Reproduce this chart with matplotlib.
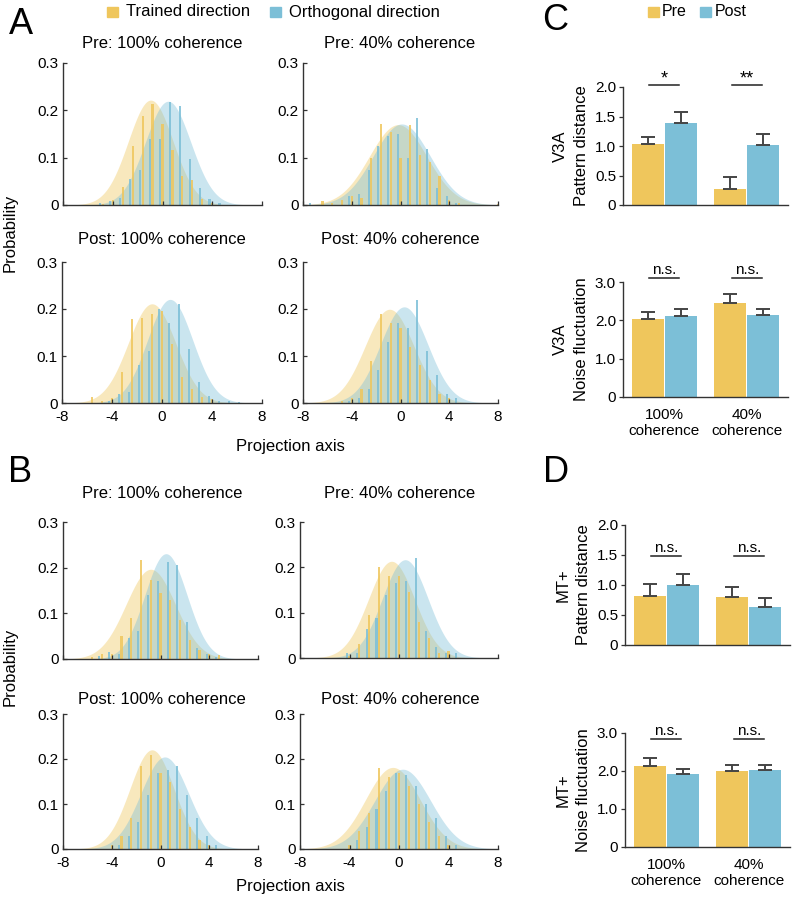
import numpy as np
import matplotlib
matplotlib.use("Agg")
import matplotlib.pyplot as plt
from matplotlib.patches import Rectangle

plt.rcParams['font.family'] = ['Liberation Sans', 'DejaVu Sans']
plt.rcParams['axes.unicode_minus'] = False

YELLOW = '#EFC65C'
BLUE = '#7CBFD7'
AXC = '#333333'
W, H = 793, 900

# bin centres of the projection histograms
bin_centers = [-8.0, -7.2, -6.4, -5.6, -4.8, -4.0, -3.2, -2.4, -1.6, -0.8, 0.0,
               0.8, 1.6, 2.4, 3.2, 4.0, 4.8, 5.6, 6.4, 7.2, 8.0]

# A: V3A histograms (trained / orthogonal direction)
a_pre100_trained = [0, 0, 0, 0, 0.003, 0.01, 0.039, 0.125, 0.187, 0.214, 0.172,
                    0.117, 0.062, 0.053, 0.012, 0.005, 0, 0, 0, 0, 0]
a_pre100_orth = [0, 0, 0, 0, 0.005, 0.008, 0.015, 0.055, 0.075, 0.14, 0.14,
                 0.218, 0.21, 0.098, 0.035, 0.012, 0.005, 0, 0, 0, 0]
a_pre40_trained = [0, 0, 0.008, 0.005, 0.01, 0.02, 0.015, 0.1, 0.172, 0.155, 0.1,
                   0.168, 0.105, 0.09, 0.062, 0.01, 0.005, 0, 0, 0, 0.003]
a_pre40_orth = [0, 0.005, 0, 0, 0, 0.02, 0.023, 0.075, 0.125, 0.145, 0.15,
                0.1, 0.184, 0.118, 0.035, 0.018, 0.005, 0, 0, 0, 0]
a_post100_trained = [0.005, 0, 0, 0.012, 0.005, 0.01, 0.066, 0.178, 0.18, 0.19, 0.195,
                     0.125, 0.055, 0.03, 0.012, 0.008, 0, 0, 0, 0, 0]
a_post100_orth = [0, 0, 0, 0, 0, 0.005, 0.02, 0.023, 0.08, 0.11, 0.2,
                  0.17, 0.21, 0.115, 0.045, 0.015, 0.005, 0.005, 0.003, 0, 0]
a_post40_trained = [0, 0, 0, 0, 0.005, 0.01, 0.03, 0.09, 0.19, 0.17, 0.16,
                    0.12, 0.08, 0.05, 0.02, 0.01, 0, 0, 0, 0, 0]
a_post40_orth = [0, 0, 0, 0, 0, 0.005, 0.01, 0.03, 0.07, 0.13, 0.17,
                 0.16, 0.22, 0.11, 0.06, 0.02, 0.01, 0, 0, 0, 0]

# B: MT+ histograms
b_pre100_trained = [0, 0, 0, 0.005, 0.01, 0.01, 0.05, 0.09, 0.216, 0.174, 0.145,
                    0.13, 0.086, 0.042, 0.02, 0.01, 0.008, 0, 0, 0, 0]
b_pre100_orth = [0, 0, 0, 0, 0.007, 0.015, 0.01, 0.046, 0.062, 0.141, 0.171,
                 0.212, 0.205, 0.081, 0.025, 0.01, 0.005, 0, 0, 0, 0]
b_pre40_trained = [0, 0, 0, 0, 0, 0.005, 0.03, 0.095, 0.2, 0.18, 0.18,
                   0.145, 0.08, 0.045, 0.01, 0.015, 0, 0, 0, 0, 0]
b_pre40_orth = [0, 0, 0, 0, 0, 0.01, 0.01, 0.064, 0.088, 0.14, 0.165,
                0.17, 0.22, 0.06, 0.025, 0.01, 0.012, 0, 0, 0, 0]
b_post100_trained = [0, 0, 0, 0, 0, 0.01, 0.03, 0.07, 0.185, 0.21, 0.17,
                     0.15, 0.09, 0.05, 0.02, 0.01, 0, 0, 0, 0, 0]
b_post100_orth = [0, 0, 0, 0, 0, 0, 0.01, 0.03, 0.06, 0.12, 0.17,
                  0.175, 0.185, 0.12, 0.07, 0.03, 0.01, 0, 0, 0, 0]
b_post40_trained = [0, 0, 0, 0, 0, 0.01, 0.04, 0.08, 0.18, 0.16, 0.17,
                    0.14, 0.1, 0.06, 0.03, 0.01, 0, 0, 0, 0, 0]
b_post40_orth = [0, 0, 0, 0, 0, 0, 0.02, 0.05, 0.09, 0.13, 0.17,
                 0.165, 0.14, 0.1, 0.07, 0.03, 0.01, 0, 0, 0, 0]

# gaussian fits (mean, sd)
fit_a = {'pre100': ((-0.95, 1.80), (0.45, 1.82)), 'pre40': ((-0.2, 2.35), (0.1, 2.33)),
         'post100': ((-0.8, 1.89), (0.65, 1.81)), 'post40': ((-0.9, 2.0), (0.3, 1.95))}
fit_b = {'pre100': ((-0.8, 2.03), (0.45, 1.73)), 'pre40': ((-0.6, 1.87), (0.5, 1.84)),
         'post100': ((-0.7, 1.81), (0.35, 1.95)), 'post40': ((-0.5, 2.2), (0.3, 2.25))}

# C / D bar charts (mean, sem) ; groups = 100% / 40% coherence
groups = ['100%\ncoherence', '40%\ncoherence']
c_dist_pre, c_dist_pre_err = [1.03, 0.27], [0.13, 0.21]
c_dist_post, c_dist_post_err = [1.39, 1.02], [0.19, 0.18]
c_noise_pre, c_noise_pre_err = [2.03, 2.45], [0.18, 0.25]
c_noise_post, c_noise_post_err = [2.12, 2.15], [0.17, 0.14]
d_dist_pre, d_dist_pre_err = [0.82, 0.80], [0.19, 0.17]
d_dist_post, d_dist_post_err = [1.00, 0.64], [0.19, 0.14]
d_noise_pre, d_noise_pre_err = [2.14, 1.99], [0.19, 0.18]
d_noise_post, d_noise_post_err = [1.92, 2.03], [0.13, 0.14]


def rect(x0, y_top, x1, y_bot):
    return [x0 / W, 1 - y_bot / H, (x1 - x0) / W, (y_bot - y_top) / H]


def ftext(x, y, s, **kw):
    fig.text(x / W, 1 - y / H, s, **kw)


def gauss(x, mu, sd):
    return np.exp(-(x - mu) ** 2 / (2 * sd ** 2)) / (sd * np.sqrt(2 * np.pi))


def hist_panel(r, trained, orth, fit, bottom):
    ax = fig.add_axes(r)
    xs = np.linspace(-8, 8, 400)
    (mt, st), (mo, so) = fit
    ax.fill_between(xs, gauss(xs, mt, st), color=YELLOW, alpha=0.4, lw=0)
    ax.fill_between(xs, gauss(xs, mo, so), color=BLUE, alpha=0.4, lw=0)
    c = np.array(bin_centers)
    ax.bar(c - 0.22, orth, width=0.17, color=BLUE, alpha=0.85, lw=0)
    ax.bar(c, trained, width=0.17, color=YELLOW, alpha=0.85, lw=0)
    ax.set_xlim(-8, 8)
    ax.set_ylim(0, 0.3)
    ax.set_yticks([0, 0.1, 0.2, 0.3])
    ax.set_yticklabels(['0', '0.1', '0.2', '0.3'])
    ax.set_xticks([-8, -4, 0, 4, 8])
    if not bottom:
        ax.set_xticklabels([])
    for s in ['top', 'right']:
        ax.spines[s].set_visible(False)
    for s in ['left', 'bottom']:
        ax.spines[s].set_color(AXC)
        ax.spines[s].set_linewidth(1.0)
    ax.tick_params(direction='in', length=3, width=0.9, color=AXC, labelsize=11)
    ax.tick_params(axis='y', pad=3)
    ax.tick_params(axis='x', pad=5)
    return ax


def bar_panel(r, pre, pre_err, post, post_err, ylim, yticks, ylab, label,
              sig, sig_y, xlabels):
    ax = fig.add_axes(r)
    x = np.arange(2)
    ax.bar(x - 0.2, pre, width=0.39, color=YELLOW, lw=0)
    ax.bar(x + 0.2, post, width=0.39, color=BLUE, lw=0)
    ax.errorbar(x - 0.2, pre, yerr=[np.zeros(2), pre_err], fmt='none', ecolor='#444444',
                elinewidth=1.4, capsize=4.7, capthick=1.4)
    ax.errorbar(x + 0.2, post, yerr=[np.zeros(2), post_err], fmt='none', ecolor='#444444',
                elinewidth=1.4, capsize=4.7, capthick=1.4)
    for g, s in zip(x, sig):
        ax.plot([g - 0.18, g + 0.18], [sig_y, sig_y], color='#222222', lw=1.1, clip_on=False)
        fs = 13 if '*' in s else 11
        off = -0.02 * ylim[1] if '*' in s else 0.01 * ylim[1]
        ax.text(g, sig_y + off, s, ha='center', va='bottom', fontsize=fs, clip_on=False)
    ax.set_xlim(-0.5, 1.5)
    ax.set_ylim(*ylim)
    ax.set_yticks(yticks)
    ax.set_yticklabels(label)
    ax.set_ylabel(ylab, fontsize=12, linespacing=1.5, labelpad=4)
    ax.set_xticks(x)
    ax.set_xticklabels(xlabels, fontsize=11, linespacing=1.15)
    for s in ['top', 'right']:
        ax.spines[s].set_visible(False)
    for s in ['left', 'bottom']:
        ax.spines[s].set_color(AXC)
        ax.spines[s].set_linewidth(1.0)
    ax.tick_params(axis='y', direction='out', length=3, width=0.9, color=AXC, labelsize=11, pad=2)
    ax.tick_params(axis='x', length=0, pad=8)
    return ax


fig = plt.figure(figsize=(W / 100, H / 100), dpi=100)

# ---- A ----
hist_panel(rect(63, 63, 262, 205), a_pre100_trained, a_pre100_orth, fit_a['pre100'], False)
hist_panel(rect(303, 63, 498, 205), a_pre40_trained, a_pre40_orth, fit_a['pre40'], False)
hist_panel(rect(62, 262, 262, 403), a_post100_trained, a_post100_orth, fit_a['post100'], True)
hist_panel(rect(303, 262, 498, 403), a_post40_trained, a_post40_orth, fit_a['post40'], True)
ftext(162, 43, 'Pre: 100% coherence', ha='center', va='center', fontsize=12)
ftext(400, 43, 'Pre: 40% coherence', ha='center', va='center', fontsize=12)
ftext(162, 240, 'Post: 100% coherence', ha='center', va='center', fontsize=12)
ftext(400, 240, 'Post: 40% coherence', ha='center', va='center', fontsize=12)
ftext(10, 233, 'Probability', rotation=90, ha='center', va='center', fontsize=12)
ftext(290, 447, 'Projection axis', ha='center', va='center', fontsize=12)

# ---- B ----
hist_panel(rect(63, 522, 258, 659), b_pre100_trained, b_pre100_orth, fit_b['pre100'], False)
hist_panel(rect(300, 522, 498, 658), b_pre40_trained, b_pre40_orth, fit_b['pre40'], False)
hist_panel(rect(63, 714, 258, 849), b_post100_trained, b_post100_orth, fit_b['post100'], True)
hist_panel(rect(300, 714, 498, 849), b_post40_trained, b_post40_orth, fit_b['post40'], True)
ftext(162, 493, 'Pre: 100% coherence', ha='center', va='center', fontsize=12)
ftext(400, 493, 'Pre: 40% coherence', ha='center', va='center', fontsize=12)
ftext(162, 700, 'Post: 100% coherence', ha='center', va='center', fontsize=12)
ftext(400, 700, 'Post: 40% coherence', ha='center', va='center', fontsize=12)
ftext(10, 667, 'Probability', rotation=90, ha='center', va='center', fontsize=12)
ftext(290, 887, 'Projection axis', ha='center', va='center', fontsize=12)

# ---- C ----
bar_panel(rect(623, 87, 788, 205), c_dist_pre, c_dist_pre_err, c_dist_post, c_dist_post_err,
          (0, 2.0), [0, 0.5, 1.0, 1.5, 2.0], 'V3A\nPattern distance',
          ['0', '0.5', '1.0', '1.5', '2.0'], ['*', '**'], 2.03, ['', ''])
bar_panel(rect(623, 282, 788, 397), c_noise_pre, c_noise_pre_err, c_noise_post, c_noise_post_err,
          (0, 3.0), [0, 1.0, 2.0, 3.0], 'V3A\nNoise fluctuation',
          ['0', '1.0', '2.0', '3.0'], ['n.s.', 'n.s.'], 3.1, groups)

# ---- D ----
bar_panel(rect(625, 525, 790, 645), d_dist_pre, d_dist_pre_err, d_dist_post, d_dist_post_err,
          (0, 2.0), [0, 0.5, 1.0, 1.5, 2.0], 'MT+\nPattern distance',
          ['0', '0.5', '1.0', '1.5', '2.0'], ['n.s.', 'n.s.'], 1.48, ['', ''])
bar_panel(rect(625, 733, 790, 847), d_noise_pre, d_noise_pre_err, d_noise_post, d_noise_post_err,
          (0, 3.0), [0, 1.0, 2.0, 3.0], 'MT+\nNoise fluctuation',
          ['0', '1.0', '2.0', '3.0'], ['n.s.', 'n.s.'], 2.84, groups)

# panel letters
for x, y, s in [(21, 25, 'A'), (20, 473, 'B'), (555, 20, 'C'), (556, 472, 'D')]:
    ftext(x, y, s, ha='center', va='center', fontsize=26)

# legends
for x0, col, x_t, s in [(107, YELLOW, 126, 'Trained direction'), (270, BLUE, 289, 'Orthogonal direction'),
                        (648, YELLOW, 662, 'Pre'), (700, BLUE, 715, 'Post')]:
    fig.add_artist(Rectangle((x0 / W, 1 - 17 / H), 10.5 / W, 10 / H, color=col,
                             transform=fig.transFigure))
    ftext(x_t, 12, s, ha='left', va='center', fontsize=12 if x0 < 500 else 11.5)

fig.savefig('out.png', dpi=100)
